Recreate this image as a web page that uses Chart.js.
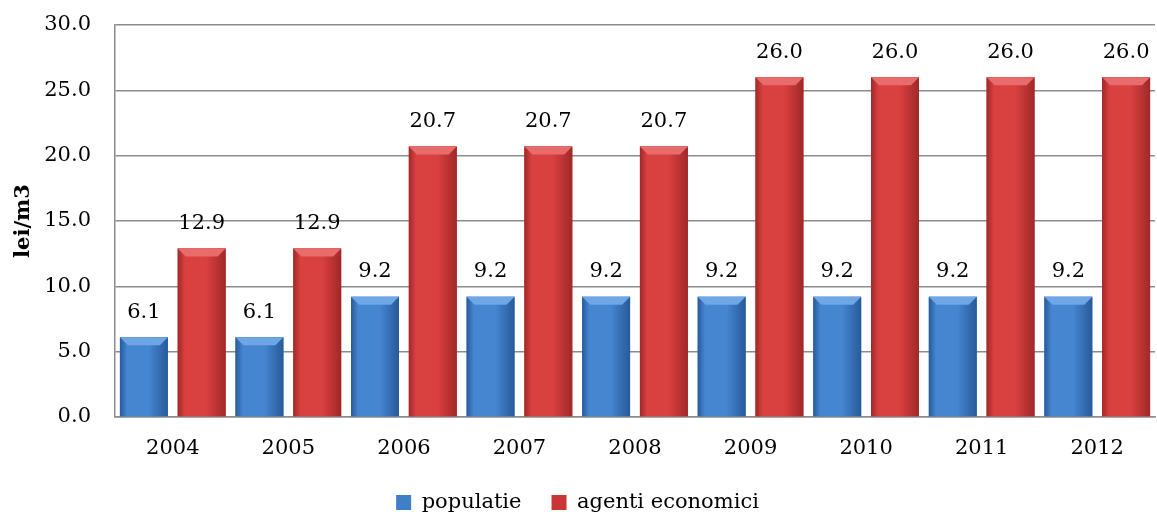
<!DOCTYPE html>
<html>
<head>
<meta charset="utf-8">
<script src="https://cdn.jsdelivr.net/npm/chart.js@4"></script>
<style>
  html, body { margin: 0; padding: 0; background: #fff; overflow: hidden; }
  #wrap { width: 1157px; height: 515px; }
</style>
</head>
<body>
<div id="wrap"><canvas id="barChart" width="1157" height="515"></canvas></div>
<script>
const years = ['2004', '2005', '2006', '2007', '2008', '2009', '2010', '2011', '2012'];
const populatie = [6.1, 6.1, 9.2, 9.2, 9.2, 9.2, 9.2, 9.2, 9.2];
const agentiEconomici = [12.9, 12.9, 20.7, 20.7, 20.7, 26.0, 26.0, 26.0, 26.0];
const yTicks = [0, 5, 10, 15, 20, 25, 30];

const FONT = "'DejaVu Serif', 'Liberation Serif', serif";
const FSIZE = 21;

// edge / centre / top-face colours for the bevelled bars
const shades = [
    { edge: '#275a9a', mid: '#4685d0', top: '#6ea6e6' },
    { edge: '#a02828', mid: '#d94040', top: '#e86c6c' }
];

const bevelBars = {
    id: 'bevelBars',
    afterDatasetsDraw(chart) {
        const ctx = chart.ctx;
        chart.data.datasets.forEach((ds, i) => {
            const meta = chart.getDatasetMeta(i);
            const s = shades[i];
            meta.data.forEach(bar => {
                const w = bar.width;
                const x0 = bar.x - w / 2, x1 = bar.x + w / 2;
                const top = bar.y, bottom = bar.base;
                const g = ctx.createLinearGradient(x0, 0, x1, 0);
                g.addColorStop(0, s.edge);
                g.addColorStop(0.15, s.mid);
                g.addColorStop(0.6, s.mid);
                g.addColorStop(1, s.edge);
                ctx.save();
                ctx.fillStyle = g;
                ctx.fillRect(x0, top, w, bottom - top);
                const b = 8;
                ctx.fillStyle = s.top;
                ctx.beginPath();
                ctx.moveTo(x0, top);
                ctx.lineTo(x1, top);
                ctx.lineTo(x1 - b, top + b);
                ctx.lineTo(x0 + b, top + b);
                ctx.closePath();
                ctx.fill();
                ctx.restore();
            });
        });
    },
    afterDraw(chart) {
        const ctx = chart.ctx;
        ctx.save();
        ctx.font = FSIZE + 'px ' + FONT;
        ctx.fillStyle = '#000';
        ctx.textAlign = 'center';
        ctx.textBaseline = 'middle';
        chart.data.datasets.forEach((ds, i) => {
            chart.getDatasetMeta(i).data.forEach((bar, j) => {
                ctx.fillText(ds.data[j].toFixed(1), bar.x, bar.y - 25);
            });
        });
        ctx.restore();
    }
};

const ctx = document.getElementById('barChart').getContext('2d');
new Chart(ctx, {
    type: 'bar',
    data: {
        labels: years,
        datasets: [{
            label: 'populatie',
            data: populatie,
            backgroundColor: '#3f7fc8',
            categoryPercentage: 1.0,
            barPercentage: 0.83
        }, {
            label: 'agenti economici',
            data: agentiEconomici,
            backgroundColor: '#c83636',
            categoryPercentage: 1.0,
            barPercentage: 0.83
        }]
    },
    plugins: [bevelBars],
    options: {
        responsive: false,
        animation: false,
        layout: { padding: { top: 25, right: 2, left: 0, bottom: -8 } },
        plugins: {
            tooltip: { enabled: false },
            legend: {
                position: 'bottom',
                labels: {
                    color: '#000',
                    font: { family: FONT, size: FSIZE },
                    boxWidth: 15,
                    boxHeight: 15,
                    padding: 30
                }
            }
        },
        scales: {
            x: {
                grid: { display: false, drawTicks: false },
                border: { color: '#8c8c8c', width: 1.5 },
                ticks: { color: '#000', font: { family: FONT, size: FSIZE }, padding: 19 },
                afterFit(scale) { scale.height = 45; }
            },
            y: {
                min: 0,
                max: 30,
                afterBuildTicks(scale) { scale.ticks = yTicks.map(v => ({ value: v })); },
                grid: { color: '#8c8c8c', lineWidth: 1.5, drawTicks: false },
                border: { color: '#8c8c8c', width: 1.5 },
                ticks: {
                    color: '#000',
                    font: { family: FONT, size: FSIZE },
                    padding: 24,
                    callback: v => v.toFixed(1)
                },
                title: {
                    display: true,
                    text: 'lei/m3',
                    color: '#000',
                    font: { family: FONT, size: FSIZE, weight: 'bold' },
                    padding: { top: 11, bottom: 0 }
                },
                afterFit(scale) {
                    scale.width = 115;
                    scale.paddingTop = 0;
                    scale.paddingBottom = 0;
                }
            }
        }
    }
});
</script>
</body>
</html>
